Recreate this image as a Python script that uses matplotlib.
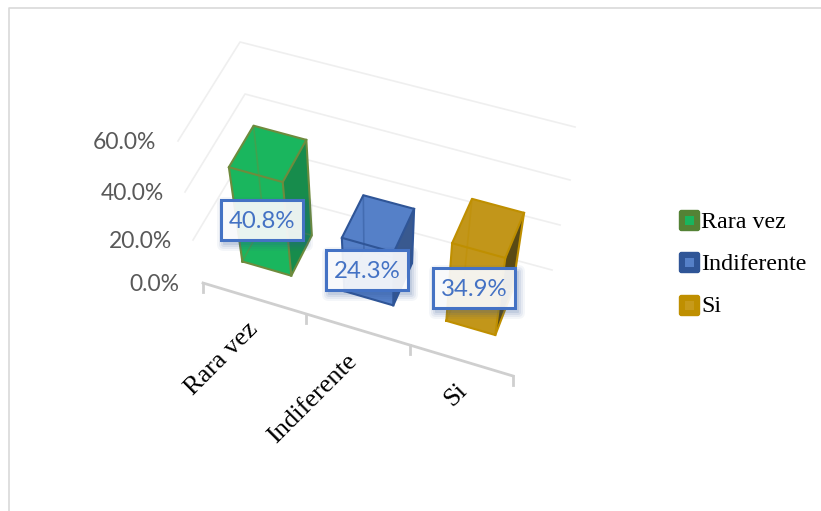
import numpy as np
import matplotlib
matplotlib.use('Agg')
import matplotlib.pyplot as plt
from matplotlib.patches import Polygon, Rectangle, FancyBboxPatch

# chart data
categories = ['Rara vez', 'Indiferente', 'Si']
values = [40.8, 24.3, 34.9]
value_labels = ['40.8%', '24.3%', '34.9%']
y_ticks = [0, 20, 40, 60]
y_tick_labels = ['0.0%', '20.0%', '40.0%', '60.0%']

# colours per bar: front, side, edge
fronts = ['#1AB65E', '#5580C8', '#C2961A']
sides = ['#178C4C', '#39598F', '#5A4A14']
edges = ['#6E8B3D', '#2F5597', '#BF8F00']
legend_outer = ['#548235', '#2F5597', '#BF8F00']
legend_inner = ['#19B55E', '#5580C8', '#C79A1A']

# picture positions of the 3d box corners at each gridline level
front_left = np.array([[203, 283], [193, 240], [185, 192], [178, 141]], float)
front_right = np.array([[513, 376], [519, 335], [526, 288], [533, 238]], float)
back_left = np.array([[255, 190], [250, 145], [245, 94], [240, 42]], float)
back_right = np.array([[552, 270], [560, 225], [570, 180], [575, 127]], float)


def level(corner, v):
    return np.array([np.interp(v, y_ticks, corner[:, 0]), np.interp(v, y_ticks, corner[:, 1])])


# c goes 0-3 along the categories, d goes 0-1 front to back, v is the value
def project(c, d, v):
    t = c / 3.0
    front = level(front_left, v) * (1 - t) + level(front_right, v) * t
    back = level(back_left, v) * (1 - t) + level(back_right, v) * t
    return tuple(front * (1 - d) + back * d)


fig = plt.figure(figsize=(8.21, 5.11), dpi=100)
ax = fig.add_axes([0, 0, 1, 1])
ax.set_xlim(0, 821)
ax.set_ylim(511, 0)
ax.axis('off')

# outer frame
ax.plot([8.5, 8.5, 821], [511, 8.5, 8.5], color='#D9D9D9', lw=1.2)

# gridlines on the left and back walls
for v in y_ticks[1:]:
    ax.plot(*zip(project(0, 0, v), project(0, 1, v), project(3, 1, v)), color='#EFEFEF', lw=1.2)
ax.plot(*zip(project(0, 1, 0), project(3, 1, 0)), color='#EFEFEF', lw=1.2)

# category axis
ax.plot(*zip(project(0, 0, 0), project(3, 0, 0)), color='#CFCFCF', lw=2)
for c in range(4):
    x0, y0 = project(c, 0, 0)
    ax.plot([x0, x0], [y0, y0 + 9], color='#CFCFCF', lw=2)

tick_pad = [24, 21, 21, 22]
for v, lab, pad in zip(y_ticks, y_tick_labels, tick_pad):
    x0, y0 = project(0, 0, v)
    ax.text(x0 - pad, y0 + 1.5, lab, ha='right', va='center', fontsize=16.5, color='#595959', family='Lato')

label_shift = [(-8, 20), (-12, 21), (-6, 19)]
for i, name in enumerate(categories):
    x0, y0 = project(i + 0.5, 0, 0)
    ax.text(x0 + label_shift[i][0], y0 + label_shift[i][1], name, rotation=45, rotation_mode='anchor',
            ha='right', va='top', fontsize=19, color='black', family='Liberation Serif')

# bars: solid body first, then the darker side, then the box edges
half_w = 0.24
d0, d1 = 0.305, 0.725
for i, val in enumerate(values):
    c0, c1 = i + 0.47 - half_w, i + 0.47 + half_w
    body = [
        [(c0, d1, 0), (c1, d1, 0), (c1, d1, val), (c0, d1, val)],
        [(c0, d0, 0), (c0, d1, 0), (c0, d1, val), (c0, d0, val)],
        [(c0, d0, 0), (c1, d0, 0), (c1, d0, val), (c0, d0, val)],
        [(c0, d0, val), (c1, d0, val), (c1, d1, val), (c0, d1, val)],
    ]
    for pts in body:
        ax.add_patch(Polygon([project(*p) for p in pts], closed=True, facecolor=fronts[i],
                             edgecolor='none', zorder=3))
    ax.add_patch(Polygon([project(*p) for p in [(c1, d0, 0), (c1, d1, 0), (c1, d1, val), (c1, d0, val)]],
                         closed=True, facecolor=sides[i], edgecolor='none', zorder=3))
    hidden = [[(c0, d1, 0), (c0, d1, val)], [(c0, d0, 0), (c0, d1, 0), (c1, d1, 0)]]
    for pts in hidden:
        ax.plot(*zip(*[project(*p) for p in pts]), color=edges[i], lw=1.2, alpha=0.45, zorder=3)
    visible = [
        [(c0, d0, 0), (c1, d0, 0), (c1, d1, 0), (c1, d1, val), (c0, d1, val), (c0, d0, val), (c0, d0, 0)],
        [(c0, d0, val), (c1, d0, val), (c1, d1, val)],
        [(c1, d0, val), (c1, d0, 0)],
    ]
    for pts in visible:
        ax.plot(*zip(*[project(*p) for p in pts]), color=edges[i], lw=1.5, zorder=3)

# data labels
label_centers = [(262, 220), (367, 270), (474, 288)]
for (cx, cy), lab in zip(label_centers, value_labels):
    for grow, a in zip([7, 5, 3, 1], [0.05, 0.07, 0.09, 0.11]):
        ax.add_patch(FancyBboxPatch((cx - 41 + 3 - grow, cy - 20 + 4 - grow), 82 + 2 * grow, 40 + 2 * grow,
                                    boxstyle='round,pad=0,rounding_size=%d' % grow, facecolor='#2F5597',
                                    edgecolor='none', alpha=a, zorder=4))
    ax.add_patch(Rectangle((cx - 41, cy - 20), 82, 40, facecolor='white', alpha=0.9, edgecolor='none', zorder=5))
    ax.add_patch(Rectangle((cx - 41, cy - 20), 82, 40, facecolor='none', edgecolor='#4472C4', lw=2.2, zorder=6))
    ax.text(cx, cy + 1, lab, ha='center', va='center', fontsize=17.3, color='#4472C4', family='Lato', zorder=7)

# legend
legend_y = [221, 263, 306]
for name, y, outer, inner in zip(categories, legend_y, legend_outer, legend_inner):
    ax.add_patch(FancyBboxPatch((679.5, y - 10.5), 20, 20, boxstyle='round,pad=0,rounding_size=2',
                                facecolor=outer, edgecolor=outer, lw=1))
    ax.add_patch(Rectangle((685, y - 5), 9, 9, facecolor=inner, edgecolor='none'))
    ax.text(701, y + 1, name, ha='left', va='center', fontsize=17.3, color='black', family='Liberation Serif')

plt.savefig('out.png', dpi=100)
